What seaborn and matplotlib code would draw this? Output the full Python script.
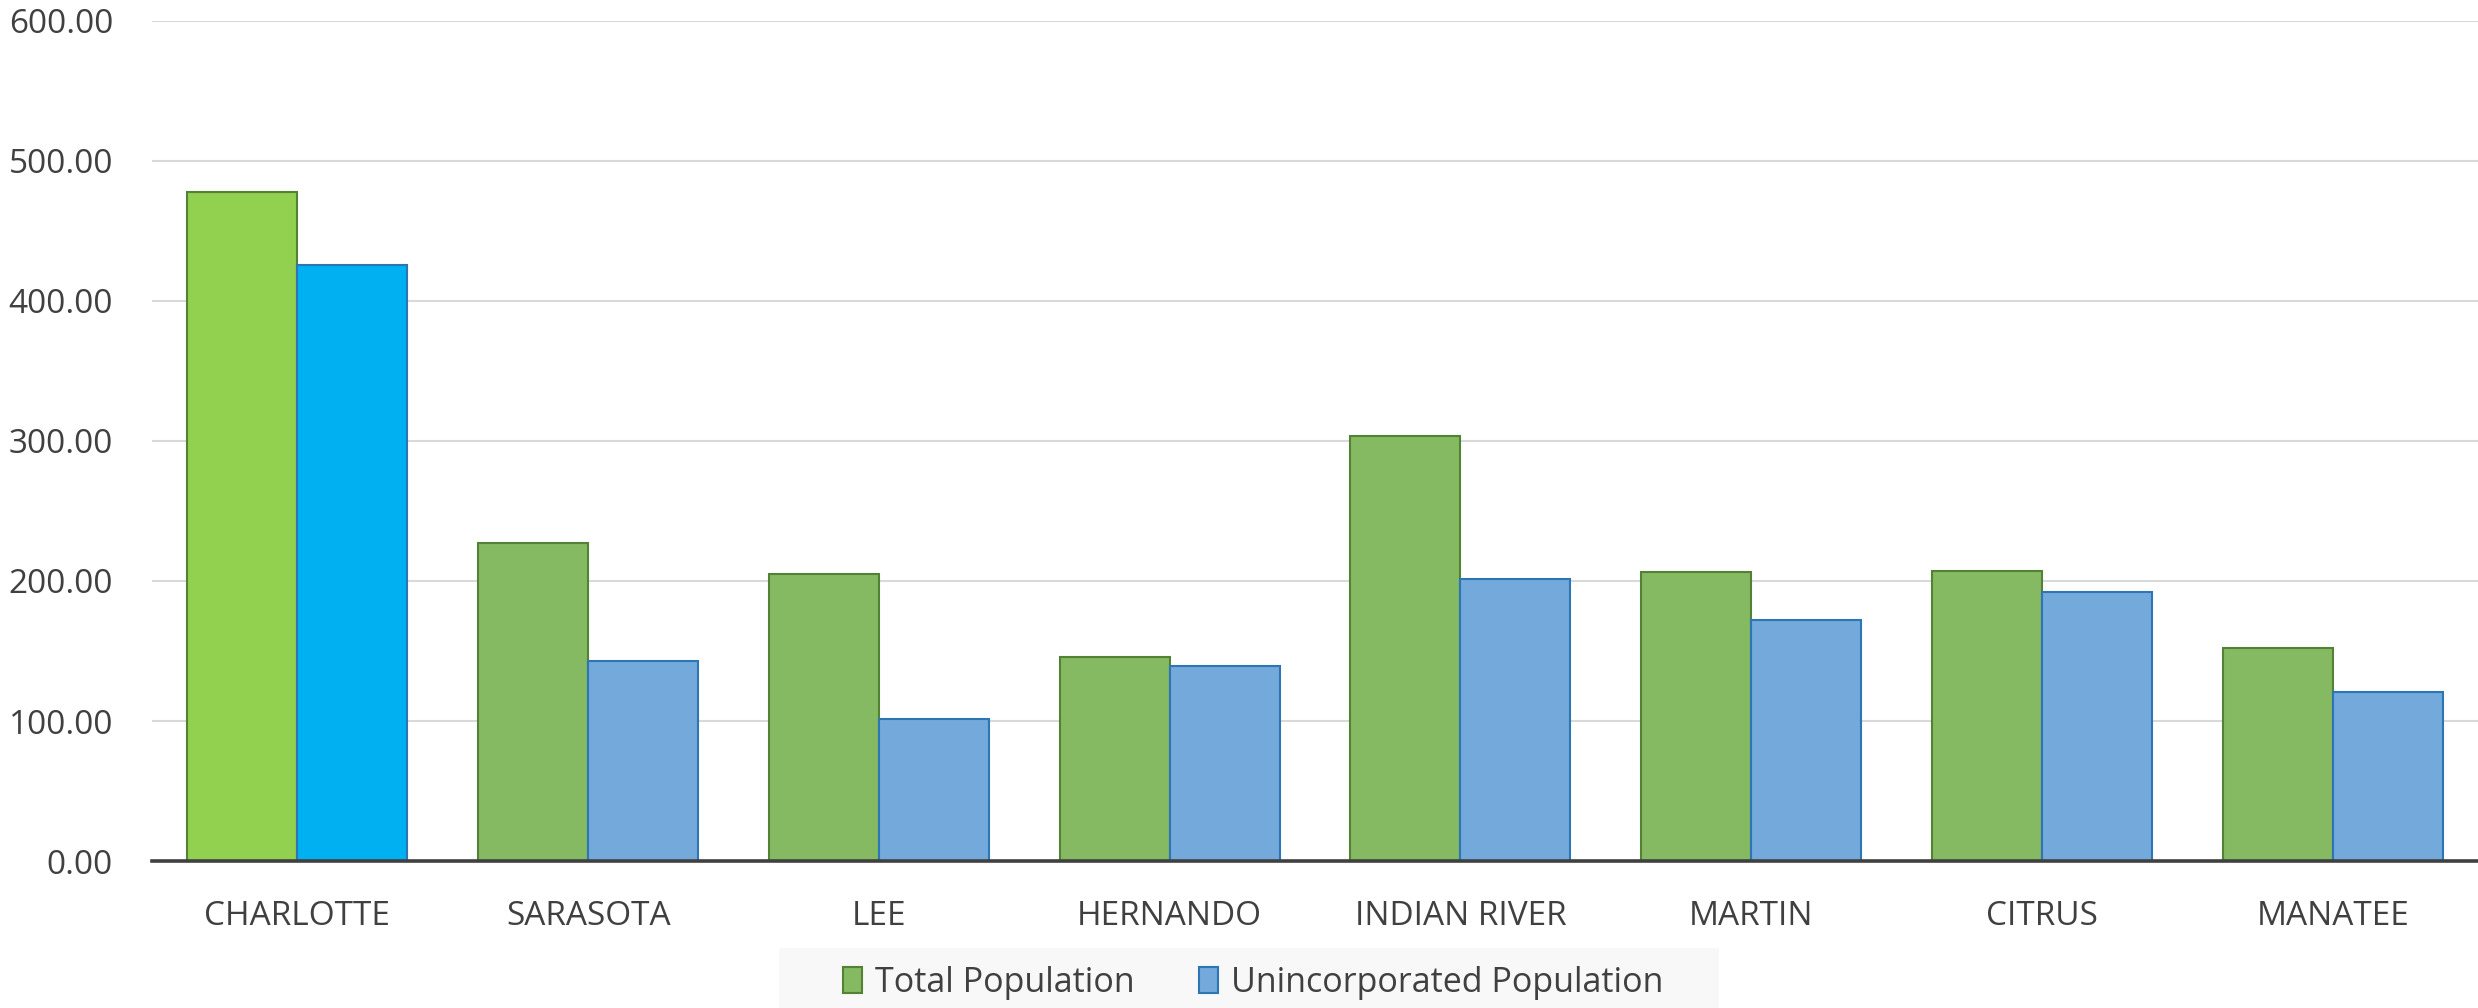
import matplotlib
matplotlib.use("Agg")
import matplotlib.pyplot as plt
from matplotlib.patches import Patch, Rectangle
import seaborn as sns
import pandas as pd

# data
counties = ["CHARLOTTE", "SARASOTA", "LEE", "HERNANDO", "INDIAN RIVER",
            "MARTIN", "CITRUS", "MANATEE"]
total_pop = [478.0, 227.4, 205.0, 145.9, 303.8, 206.2, 207.4, 152.4]
uninc_pop = [425.7, 143.1, 101.2, 139.3, 201.4, 171.9, 192.4, 120.9]
series = ["Total Population", "Unincorporated Population"]
yticks = [0, 100, 200, 300, 400, 500, 600]

df = pd.DataFrame({
    "County": counties * 2,
    "Series": [series[0]] * len(counties) + [series[1]] * len(counties),
    "Value": total_pop + uninc_pop,
})

sns.set_style("white")
plt.rcParams["font.family"] = ["Open Sans", "DejaVu Sans"]

green, green_edge = "#85B962", "#548235"
blue, blue_edge = "#73AADB", "#2E75B6"
hi_green, hi_blue = "#92D050", "#00B0F0"
txt = "#404040"

fig = plt.figure(figsize=(24.78, 10.08), dpi=100)
# plot area runs to the right edge of the image
ax = fig.add_axes([152 / 2478, 1 - 861 / 1008, (2478 - 152) / 2478, (861 - 21) / 1008])

sns.barplot(data=df, x="County", y="Value", hue="Series", order=counties,
            palette=[green, blue], saturation=1, width=0.757, gap=0, ax=ax,
            legend=False, linewidth=1.5, zorder=3)

# edges per series, and highlight the first county
for cont, edge, hi in zip(ax.containers, [green_edge, blue_edge], [hi_green, hi_blue]):
    for i, bar in enumerate(cont):
        bar.set_edgecolor(edge)
        if i == 0:
            bar.set_facecolor(hi)

ax.set_ylim(0, 600)
ax.set_yticks(yticks)
ax.set_yticklabels([f"{v:.2f}" for v in yticks])
ax.yaxis.grid(True, color="#d9d9d9", linewidth=1.5, zorder=0)
ax.set_axisbelow(True)
ax.set_xlabel("")
ax.set_ylabel("")
for s in ["top", "right", "left"]:
    ax.spines[s].set_visible(False)
ax.spines["bottom"].set_color(txt)
ax.spines["bottom"].set_linewidth(2.6)
ax.spines["bottom"].set_zorder(5)
ax.tick_params(axis="both", length=0, labelsize=24, colors=txt)
ax.tick_params(axis="y", pad=28)
ax.tick_params(axis="x", pad=28)

# legend background band
fig.patches.append(Rectangle((779 / 2478, 0), (1719 - 779) / 2478, 60 / 1008,
                             transform=fig.transFigure, facecolor="#f8f8f8",
                             edgecolor="none", zorder=0))

handles = [Patch(facecolor=green, edgecolor=green_edge, linewidth=1.5),
           Patch(facecolor=blue, edgecolor=blue_edge, linewidth=1.5)]
leg = fig.legend(handles, series, loc="center", bbox_to_anchor=(1253 / 2478, 1 - 983 / 1008),
                 ncol=2, fontsize=24.5, frameon=False,
                 handlelength=0.57, handleheight=0.77, handletextpad=0.37,
                 columnspacing=1.9, borderpad=0, borderaxespad=0)
for t in leg.get_texts():
    t.set_color(txt)

fig.savefig("out.png", dpi=100)
